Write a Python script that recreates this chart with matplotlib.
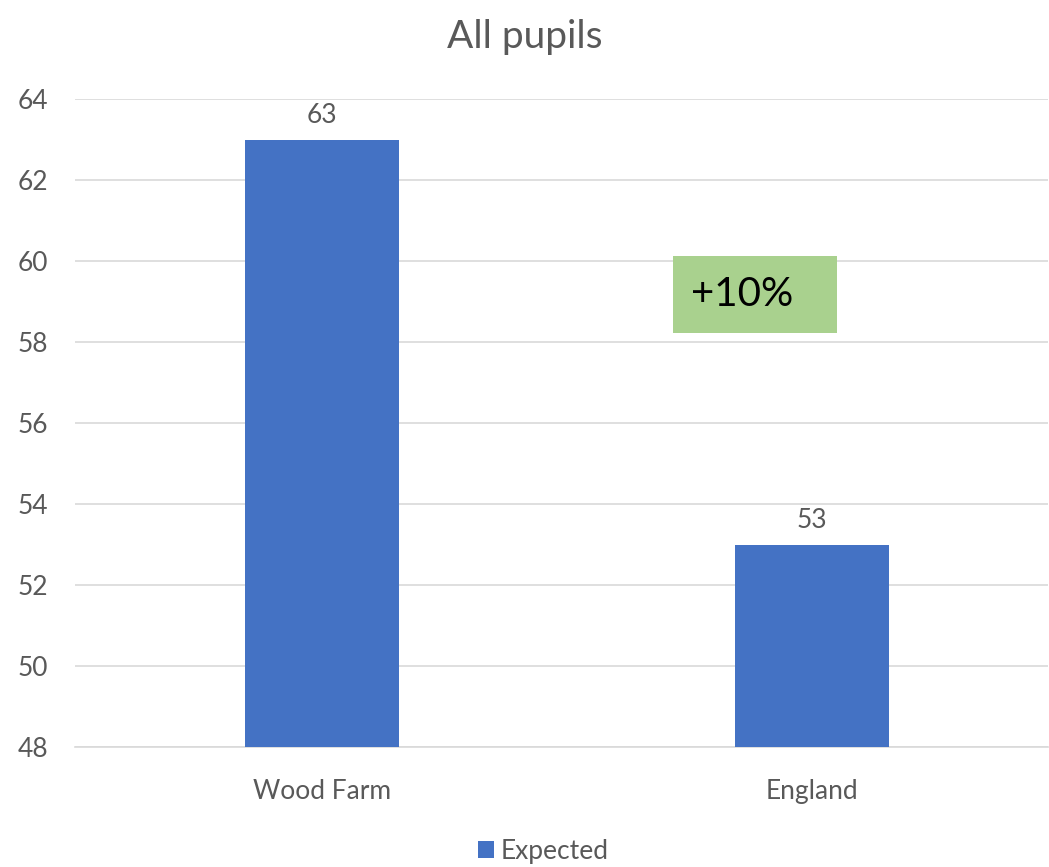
import matplotlib.pyplot as plt
from matplotlib.patches import Rectangle

plt.rcParams['font.family'] = ['Lato', 'DejaVu Sans']

categories = ['Wood Farm', 'England']
expected = [63, 53]
yticks = [48, 50, 52, 54, 56, 58, 60, 62, 64]
note_text = '+10%'

text_grey = '#595959'
bar_blue = '#4472C4'

fig = plt.figure(figsize=(10.49, 8.67), dpi=100)
ax = fig.add_axes([0.0715, 0.1384, 0.928, 0.7474])

x = range(len(categories))
bars = ax.bar(x, expected, width=0.314, color=bar_blue, label='Expected', zorder=3)

ax.set_ylim(48, 64)
ax.set_xlim(-0.504, 1.482)
ax.set_yticks(yticks)
ax.set_xticks(list(x))
ax.set_xticklabels(categories)
ax.tick_params(axis='both', length=0, labelsize=19, colors=text_grey)
ax.tick_params(axis='x', pad=23)
ax.tick_params(axis='y', pad=41)
for lbl in ax.get_yticklabels():
    lbl.set_horizontalalignment('left')
ax.grid(axis='y', color='#D9D9D9', linewidth=1.2, zorder=0)
for s in ['top', 'right', 'left']:
    ax.spines[s].set_visible(False)
ax.spines['bottom'].set_color('#D9D9D9')
ax.spines['bottom'].set_linewidth(1.2)

# value labels above bars
for b, v in zip(bars, expected):
    ax.annotate(str(v), (b.get_x() + b.get_width() / 2, v), xytext=(0, 8),
                textcoords='offset points', ha='center', va='bottom',
                fontsize=19, color=text_grey)

# green difference box
ax.add_patch(Rectangle((0.716, 58.22), 0.335, 1.9, facecolor='#A9D18E',
                       edgecolor='none', zorder=4))
ax.text(0.752, 59.17, note_text, fontsize=29, color='black', va='center',
        ha='left', zorder=5)

fig.suptitle('All pupils', y=0.978, fontsize=28, color=text_grey)

fig.legend(loc='lower center', bbox_to_anchor=(0.518, -0.024), frameon=False,
           fontsize=19, handlelength=0.6, handleheight=0.6, handletextpad=0.25,
           labelcolor=text_grey)

fig.savefig('out.png', dpi=100)
